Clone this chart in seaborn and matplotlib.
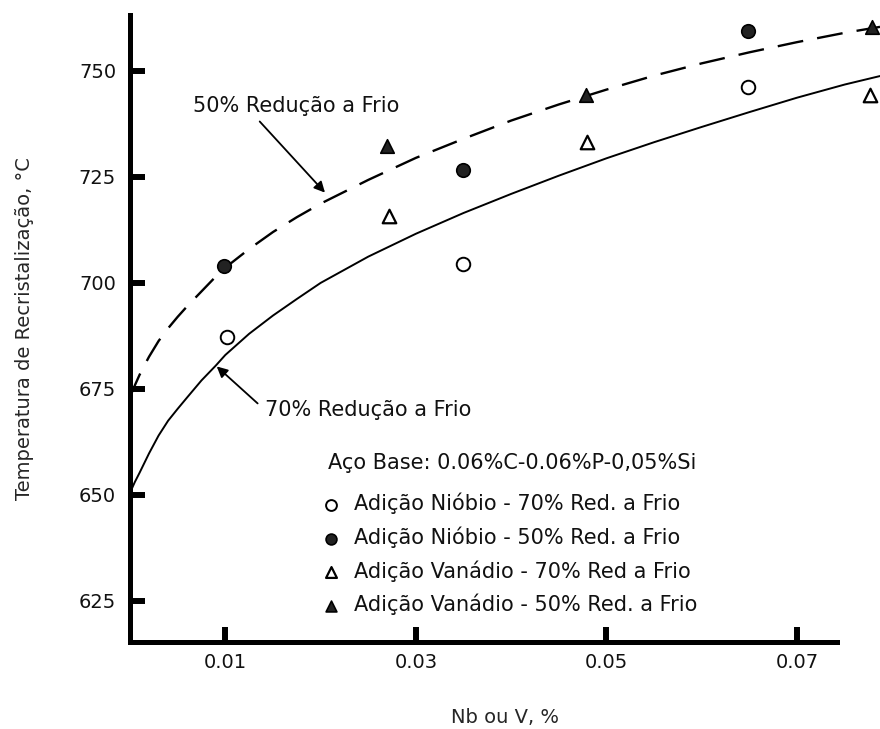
import matplotlib
matplotlib.use("Agg")
import matplotlib.pyplot as plt
import seaborn as sns
import pandas as pd

# ---- data ----
curve_x = [0, 0.0002, 0.0005, 0.001, 0.0015, 0.002, 0.003, 0.004, 0.005, 0.006,
           0.0075, 0.009, 0.01, 0.0125, 0.015, 0.0175, 0.02, 0.025, 0.03, 0.035,
           0.04, 0.045, 0.05, 0.055, 0.06, 0.065, 0.07, 0.075, 0.0787]
curve70 = [650, 651.5, 653, 655.2, 657.5, 659.8, 664, 667.5, 670.3, 673,
           677, 680.5, 683, 688, 692.3, 696.2, 700, 706.2, 711.6, 716.5,
           721, 725.3, 729.4, 733.2, 736.8, 740.3, 743.7, 746.8, 748.8]
curve50 = [673, 674.2, 675.8, 678.3, 680.5, 682.6, 686.3, 689.3, 692, 694.5,
           698, 701.5, 703.6, 708, 712, 715.5, 718.7, 724.3, 729.5, 734,
           738.3, 742.1, 745.6, 748.9, 751.8, 754.4, 756.8, 759, 760.4]

nb70_x = [0.0102, 0.0349, 0.0648]
nb70_y = [687.3, 704.5, 746.2]
nb50_x = [0.0099, 0.0349, 0.0648]
nb50_y = [704.0, 726.6, 759.4]
v70_x = [0.0272, 0.0480, 0.0776]
v70_y = [715.8, 733.3, 744.3]
v50_x = [0.0270, 0.0478, 0.0779]
v50_y = [732.3, 744.3, 760.4]

x_ticks = [0.01, 0.03, 0.05, 0.07]
x_ticklabels = ["0.01", "0.03", "0.05", "0.07"]
y_ticks = [625, 650, 675, 700, 725, 750]
y_ticklabels = ["625", "650", "675", "700", "725", "750"]

labels = ["Adição Nióbio - 70% Red. a Frio",
          "Adição Nióbio - 50% Red. a Frio",
          "Adição Vanádio - 70% Red a Frio",
          "Adição Vanádio - 50% Red. a Frio"]
legend_title = "Aço Base: 0.06%C-0.06%P-0,05%Si"
label70 = "70% Redução a Frio"
label50 = "50% Redução a Frio"
xlabel = "Nb ou V, %"
ylabel = "Temperatura de Recristalização, °C"

# ---- plotting ----
sns.set_theme(style="white")
plt.rcParams['font.family'] = ['DejaVu Sans']
plt.rcParams['text.color'] = '#111111'

fig = plt.figure(figsize=(8.8, 7.29), dpi=100)
ax = fig.add_axes([130/880, 1-642/729, 1-130/880, (642-15)/729])

curves = pd.DataFrame({"x": curve_x, "c70": curve70, "c50": curve50})
sns.lineplot(data=curves, x="x", y="c70", ax=ax, color="black", lw=1.4,
             clip_on=False, estimator=None, sort=False)
sns.lineplot(data=curves, x="x", y="c50", ax=ax, color="black", lw=1.7,
             clip_on=False, estimator=None, sort=False,
             linestyle=(0, (11, 6)))

ms = 95
h1 = ax.scatter(nb70_x, nb70_y, s=ms, marker="o", facecolor="white",
                edgecolor="black", linewidths=1.4, clip_on=False, zorder=5)
h2 = ax.scatter(nb50_x, nb50_y, s=ms, marker="o", facecolor="#222222",
                edgecolor="black", linewidths=1.2, clip_on=False, zorder=5)
h3 = ax.scatter(v70_x, v70_y, s=ms, marker="^", facecolor="white",
                edgecolor="black", linewidths=1.6, clip_on=False, zorder=5)
h4 = ax.scatter(v50_x, v50_y, s=ms, marker="^", facecolor="#222222",
                edgecolor="black", linewidths=1.2, clip_on=False, zorder=5)

ax.set_xlim(0, 0.0787)
ax.set_ylim(615.3, 763.2)
ax.set_xticks(x_ticks)
ax.set_xticklabels(x_ticklabels)
ax.set_yticks(y_ticks)
ax.set_yticklabels(y_ticklabels)

for s in ["top", "right"]:
    ax.spines[s].set_visible(False)
for s in ["left", "bottom"]:
    ax.spines[s].set_color("black")
    ax.spines[s].set_linewidth(3.6)
ax.spines["bottom"].set_bounds(0, 0.0742)
ax.tick_params(axis="both", which="major", bottom=True, left=True,
               direction="in", length=11, width=4.3,
               colors="black", labelsize=14, labelcolor="#111111")
ax.tick_params(axis="x", pad=8)
ax.tick_params(axis="y", pad=10)
ax.grid(False)

ax.set_xlabel(xlabel, fontsize=14, labelpad=26)
ax.set_ylabel(ylabel, fontsize=14, labelpad=32)

fs = 15
ax.annotate(label50, xy=(0.02046, 721.3), xytext=(0.0066, 741.7),
            fontsize=fs, va="center", ha="left",
            arrowprops=dict(arrowstyle="-|>", lw=1.3, color="black",
                            mutation_scale=16, shrinkA=2, shrinkB=0,
                            relpos=(0.3, 0.0)))
ax.annotate(label70, xy=(0.0091, 680.3), xytext=(0.01417, 670.0),
            fontsize=fs, va="center", ha="left",
            arrowprops=dict(arrowstyle="-|>", lw=1.3, color="black",
                            mutation_scale=16, shrinkA=4, shrinkB=0,
                            relpos=(0.0, 0.5)))

ax.text((328-130)/750, 1 - (463-15)/627, legend_title, transform=ax.transAxes,
        fontsize=fs, ha="left", va="center")
leg = ax.legend([h1, h2, h3, h4], labels,
                loc="upper left", bbox_to_anchor=((320-130)/750, 1 - (493-15)/627),
                frameon=False, fontsize=fs,
                handletextpad=0.55, labelspacing=0.58, handlelength=1.1,
                borderaxespad=0, borderpad=0, markerscale=0.8)

fig.savefig("out.png", dpi=100)
